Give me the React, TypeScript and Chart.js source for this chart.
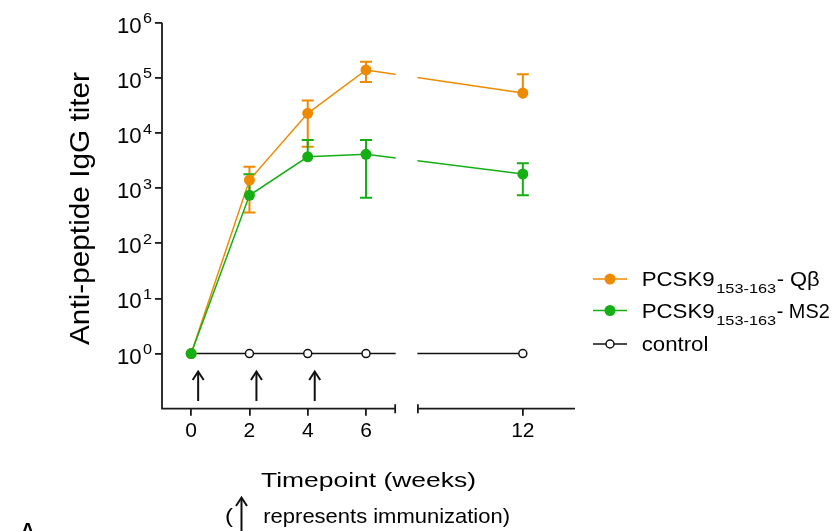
import React, { useEffect, useRef } from 'react';
import { Chart, registerables, LinearScale } from 'chart.js';

// ---------------- data ----------------
const weeks = [0, 2, 4, 6, 12];
const qbMean = [1, 1400, 22700, 139000, 53000];
const qbUpper = [null, 2450, 39000, 196000, 116000];
const qbLower = [null, 360, 5650, 84000, 42000];
const ms2Mean = [1, 740, 3700, 4100, 1800];
const ms2Upper = [null, 1790, 7500, 7500, 2830];
const ms2Lower = [null, 620, 3100, 670, 740];
const controlMean = [1, 1, 1, 1, 1];
const immunizationWeeks = [0, 2, 4];
const xTickLabels = ['0', '2', '4', '6', '12'];
const yTickExponents = [0, 1, 2, 3, 4, 5, 6];
const legendMain = ['PCSK9', 'PCSK9', 'control'];
const legendSub = ['153-163', '153-163', ''];
const legendSuffix = ['- Q\u03b2', '- MS2', ''];
const yTitle = 'Anti-peptide IgG titer';
const xTitle = 'Timepoint (weeks)';
const noteText = 'represents immunization)';

// axis break (in weeks)
const BREAK_FROM = 7;
const BREAK_TO = 8.4;
const BREAK_GAP = 0.78;

// ---------------- style ----------------
const ORANGE = '#EE8A00';
const GREEN = '#14AF14';
const AXIS = '#1a1a1a';
const TEXT = '#000000';
const FONT = '"Liberation Sans", Arial, Helvetica, sans-serif';

class BrokenLinearScale extends LinearScale {
  static id = 'brokenLinear';
  static defaults = LinearScale.defaults;
  compress(v: number) {
    if (v <= BREAK_FROM) return v;
    if (v >= BREAK_TO) return v - (BREAK_TO - BREAK_FROM) + BREAK_GAP;
    return BREAK_FROM + ((v - BREAK_FROM) / (BREAK_TO - BREAK_FROM)) * BREAK_GAP;
  }
  getPixelForValue(value: any) {
    if (value === null || value === undefined || isNaN(value)) return NaN;
    const c0 = this.compress(this.min);
    const c1 = this.compress(this.max);
    return this.getPixelForDecimal((this.compress(value) - c0) / (c1 - c0));
  }
  getValueForPixel(pixel: number) {
    const c0 = this.compress(this.min);
    const c1 = this.compress(this.max);
    const c = c0 + this.getDecimalForPixel(pixel) * (c1 - c0);
    if (c <= BREAK_FROM) return c;
    if (c >= BREAK_FROM + BREAK_GAP) return c + (BREAK_TO - BREAK_FROM) - BREAK_GAP;
    return BREAK_FROM + ((c - BREAK_FROM) / BREAK_GAP) * (BREAK_TO - BREAK_FROM);
  }
}

Chart.register(...registerables, BrokenLinearScale);

function drawText(
  ctx: CanvasRenderingContext2D,
  s: string,
  x: number,
  y: number,
  size: number,
  width?: number,
  align: CanvasTextAlign = 'left',
  weight = 'normal'
) {
  ctx.save();
  ctx.font = `${weight} ${size}px ${FONT}`;
  const w = ctx.measureText(s).width;
  const sx = width ? width / w : 1;
  ctx.translate(x, y);
  ctx.scale(sx, 1);
  ctx.textAlign = align;
  ctx.textBaseline = 'alphabetic';
  ctx.fillStyle = TEXT;
  ctx.fillText(s, 0, 0);
  ctx.restore();
  return w * sx;
}

function drawUpArrow(ctx: CanvasRenderingContext2D, x: number, yTip: number, yTail: number) {
  ctx.save();
  ctx.strokeStyle = '#111';
  ctx.lineWidth = 2;
  ctx.beginPath();
  ctx.moveTo(x, yTail);
  ctx.lineTo(x, yTip + 1);
  ctx.stroke();
  ctx.beginPath();
  ctx.moveTo(x - 5.5, yTip + 8.5);
  ctx.lineTo(x, yTip);
  ctx.lineTo(x + 5.5, yTip + 8.5);
  ctx.stroke();
  ctx.restore();
}

const errorBarPlugin = {
  id: 'errorBars',
  beforeDatasetsDraw(chart: any) {
    const ctx = chart.ctx as CanvasRenderingContext2D;
    const xs = chart.scales.x;
    const ys = chart.scales.y;
    const series = [
      { color: ORANGE, mean: qbMean, lo: qbLower, hi: qbUpper },
      { color: GREEN, mean: ms2Mean, lo: ms2Lower, hi: ms2Upper },
    ];
    series.forEach((s) => {
      ctx.save();
      ctx.strokeStyle = s.color;
      ctx.lineWidth = 2;
      weeks.forEach((w, i) => {
        const hi = s.hi[i];
        const lo = s.lo[i];
        if (hi == null || lo == null) return;
        const x = xs.getPixelForValue(w);
        const ym = ys.getPixelForValue(s.mean[i]);
        const yh = ys.getPixelForValue(hi);
        const yl = ys.getPixelForValue(lo);
        ctx.beginPath();
        ctx.moveTo(x, yh);
        ctx.lineTo(x, yl);
        if (ym - yh > 7) {
          ctx.moveTo(x - 6, yh);
          ctx.lineTo(x + 6, yh);
        }
        if (yl - ym > 7) {
          ctx.moveTo(x - 6, yl);
          ctx.lineTo(x + 6, yl);
        }
        ctx.stroke();
      });
      ctx.restore();
    });
  },
};

const decorPlugin = {
  id: 'decor',
  afterDatasetsDraw(chart: any) {
    const ctx = chart.ctx as CanvasRenderingContext2D;
    const xs = chart.scales.x;
    const area = chart.chartArea;
    const xb0 = xs.getPixelForValue(BREAK_FROM);
    const xb1 = xs.getPixelForValue(BREAK_TO);

    // gap for the broken axis
    ctx.save();
    ctx.fillStyle = '#ffffff';
    ctx.fillRect(xb0 + 0.5, area.top - 10, xb1 - xb0 - 1, area.bottom - area.top + 8);
    ctx.restore();

    // axes
    ctx.save();
    ctx.strokeStyle = AXIS;
    ctx.lineWidth = 1.8;
    ctx.lineCap = 'butt';
    ctx.beginPath();
    ctx.moveTo(area.left, area.top);
    ctx.lineTo(area.left, area.bottom + 0.9);
    ctx.moveTo(area.left - 0.9, area.bottom);
    ctx.lineTo(xb0, area.bottom);
    ctx.moveTo(xb0, area.bottom - 4.5);
    ctx.lineTo(xb0, area.bottom + 4.5);
    ctx.moveTo(xb1, area.bottom - 4.5);
    ctx.lineTo(xb1, area.bottom + 4.5);
    ctx.moveTo(xb1, area.bottom);
    ctx.lineTo(area.right, area.bottom);
    ctx.stroke();
    ctx.restore();

    // immunization arrows
    immunizationWeeks.forEach((w) => {
      const x = xs.getPixelForValue(w) + 7;
      drawUpArrow(ctx, x, 371.5, 401);
    });
  },
  afterDraw(chart: any) {
    const ctx = chart.ctx as CanvasRenderingContext2D;
    const xs = chart.scales.x;
    const ys = chart.scales.y;

    // y tick labels 10^n
    yTickExponents.forEach((e) => {
      const y = ys.getPixelForValue(Math.pow(10, e));
      drawText(ctx, '10', 141.7, y + 10, 22, 24.7, 'right');
      drawText(ctx, String(e), 143, y + 0.6, 14, 9, 'left');
    });

    // x tick labels
    weeks.forEach((w, i) => {
      const x = xs.getPixelForValue(w);
      ctx.save();
      ctx.font = `20px ${FONT}`;
      const tw = ctx.measureText(xTickLabels[i]).width * 1.05;
      ctx.restore();
      drawText(ctx, xTickLabels[i], x, 437.3, 20, tw, 'center');
    });

    // y title
    ctx.save();
    ctx.translate(88.5, 208.5);
    ctx.rotate(-Math.PI / 2);
    drawText(ctx, yTitle, 0, 0, 28, 273, 'center');
    ctx.restore();

    // x title + note
    drawText(ctx, xTitle, 368.5, 486.7, 20.5, 215, 'center');
    drawText(ctx, '(', 225, 523.3, 21, 8, 'left');
    drawUpArrow(ctx, 241.5, 497.5, 533);
    drawText(ctx, noteText, 263.3, 523.3, 21, 246.7, 'left');

    // panel letter (cut off at the bottom)
    drawText(ctx, 'A', 20.5, 536.5, 20, undefined, 'left', 'bold');

    // legend
    const rowY = [279, 310.5, 344];
    const colors = [ORANGE, GREEN, '#111'];
    const subW = [60, 60, 0];
    const mainW = [73, 73, 66.7];
    const sufW = [43, 53, 0];
    rowY.forEach((y, i) => {
      ctx.save();
      ctx.strokeStyle = colors[i];
      ctx.lineWidth = 1.5;
      ctx.beginPath();
      ctx.moveTo(593, y);
      ctx.lineTo(627, y);
      ctx.stroke();
      ctx.beginPath();
      if (i < 2) {
        ctx.fillStyle = colors[i];
        ctx.arc(610, y, 5.5, 0, Math.PI * 2);
        ctx.fill();
      } else {
        ctx.fillStyle = '#fff';
        ctx.arc(610, y, 4, 0, Math.PI * 2);
        ctx.fill();
        ctx.stroke();
      }
      ctx.restore();
      let x = 641.7;
      const base = y + 7;
      x += drawText(ctx, legendMain[i], x, base, 20, mainW[i], 'left');
      if (legendSub[i]) {
        x += 1.5;
        x += drawText(ctx, legendSub[i], x, base + 7.3, 13, subW[i], 'left');
      }
      if (legendSuffix[i]) {
        drawText(ctx, legendSuffix[i], x + 0.5, base, 20, sufW[i], 'left');
      }
    });
  },
};

export default function App() {
  const canvasRef = useRef<HTMLCanvasElement | null>(null);

  useEffect(() => {
    const canvas = canvasRef.current;
    if (!canvas) return;
    const pts = (ys: number[]) => weeks.map((w, i) => ({ x: w, y: ys[i] }));
    const chart = new Chart(canvas, {
      type: 'line',
      data: {
        datasets: [
          {
            label: 'PCSK9 153-163 - Q\u03b2',
            data: pts(qbMean),
            borderColor: ORANGE,
            backgroundColor: ORANGE,
            borderWidth: 1.5,
            pointRadius: 5.5,
            pointBorderWidth: 0,
            pointBackgroundColor: ORANGE,
            tension: 0,
            order: 1,
          },
          {
            label: 'PCSK9 153-163 - MS2',
            data: pts(ms2Mean),
            borderColor: GREEN,
            backgroundColor: GREEN,
            borderWidth: 1.5,
            pointRadius: 5.5,
            pointBorderWidth: 0,
            pointBackgroundColor: GREEN,
            tension: 0,
            order: 0,
          },
          {
            label: 'control',
            data: pts(controlMean),
            borderColor: '#111',
            backgroundColor: '#fff',
            borderWidth: 1.5,
            pointRadius: 4,
            pointBorderWidth: 1.5,
            pointBorderColor: '#111',
            pointBackgroundColor: '#fff',
            tension: 0,
            order: 2,
          },
        ],
      },
      options: {
        responsive: false,
        animation: false,
        devicePixelRatio: 1,
        events: [],
        layout: { padding: { left: 0, right: 265, top: 22.7, bottom: 0 } },
        plugins: { legend: { display: false }, tooltip: { enabled: false } },
        scales: {
          x: {
            type: 'brokenLinear' as any,
            min: -1,
            max: 13.79,
            afterBuildTicks: (s: any) => {
              s.ticks = weeks.map((v) => ({ value: v }));
            },
            afterFit: (s: any) => {
              s.height = 531 - 408.7;
            },
            ticks: { display: false, autoSkip: false },
            grid: {
              display: true,
              drawOnChartArea: false,
              drawTicks: true,
              tickLength: 7,
              color: AXIS,
              lineWidth: 1.8,
            },
            border: { display: false },
          },
          y: {
            type: 'logarithmic',
            min: 0.1,
            max: 1e6,
            afterBuildTicks: (s: any) => {
              s.ticks = yTickExponents.map((e) => ({ value: Math.pow(10, e) }));
            },
            afterFit: (s: any) => {
              s.width = 162;
            },
            ticks: { display: false, autoSkip: false },
            grid: {
              display: true,
              drawOnChartArea: false,
              drawTicks: true,
              tickLength: 7,
              color: AXIS,
              lineWidth: 1.8,
            },
            border: { display: false },
          },
        },
      },
      plugins: [errorBarPlugin, decorPlugin],
    });
    return () => chart.destroy();
  }, []);

  return (
    <div style={{ position: 'absolute', left: 0, top: 0, width: 840, height: 531, background: '#fff' }}>
      <canvas ref={canvasRef} width={840} height={531} style={{ width: 840, height: 531, display: 'block' }} />
    </div>
  );
}
